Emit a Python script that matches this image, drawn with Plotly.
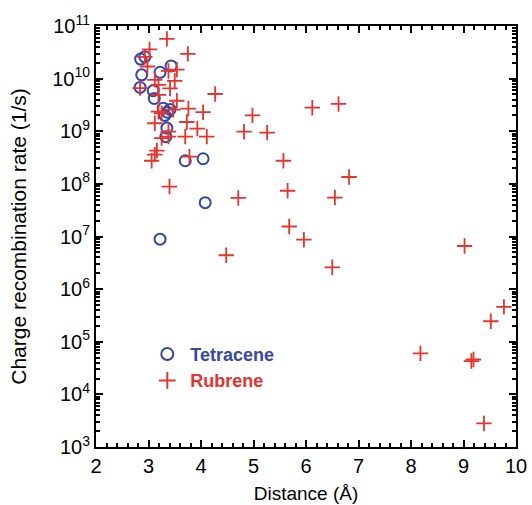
import plotly.graph_objects as go

# Tetracene (circles)
tet_x = [2.85, 2.93, 2.87, 2.84, 3.09, 3.11, 3.22, 3.43, 3.28, 3.36, 3.41, 3.31, 3.35, 3.33, 3.70, 4.04, 4.08, 3.22]
tet_y = [2.35e10, 2.6e10, 1.18e10, 6.8e9, 5.9e9, 4.2e9, 1.32e10, 1.74e10, 2.75e9, 2.3e9, 2.6e9, 2.0e9, 1.15e9, 7.9e8, 2.75e8, 3.0e8, 4.4e7, 8.9e6]

# Rubrene (plus)
rub_x = [3.35, 3.02, 3.75, 2.93, 2.98, 3.38, 3.54, 3.12, 3.50, 2.84, 3.19, 3.41, 3.19, 4.27, 3.54,
         3.19, 3.25, 3.76, 4.04, 3.47, 3.73, 3.12, 3.93, 4.11, 3.70, 3.38, 3.25, 3.38, 3.16, 3.12,
         3.06, 3.78, 3.40, 4.98, 6.12, 6.62, 4.82, 5.26, 5.57, 6.82, 5.65, 6.55, 4.71, 4.48, 5.68,
         5.96, 6.50, 9.02, 9.77, 9.52, 8.18, 9.19, 9.15, 9.39]
rub_y = [5.7e10, 3.6e10, 2.95e10, 2.6e10, 1.7e10, 1.4e10, 1.48e10, 9.5e9, 9.1e9, 6.6e9, 7.6e9, 6.5e9, 4.9e9, 5.1e9, 3.8e9,
         2.35e9, 2.2e9, 2.7e9, 2.3e9, 2.57e9, 1.5e9, 1.42e9, 1.12e9, 7.9e8, 7.9e8, 7.9e8, 7.4e8, 9.8e8, 4.3e8, 3.6e8,
         2.75e8, 3.3e8, 8.9e7, 2.0e9, 2.8e9, 3.3e9, 9.8e8, 9.4e8, 2.75e8, 1.35e8, 7.4e7, 5.5e7, 5.4e7, 4.4e6, 1.55e7,
         8.7e6, 2.6e6, 6.6e6, 4.6e5, 2.45e5, 6.0e4, 4.6e4, 4.3e4, 2.8e3]

x_ticks = [2, 3, 4, 5, 6, 7, 8, 9, 10]
y_exps = [3, 4, 5, 6, 7, 8, 9, 10, 11]

BLUE = "#3447a8"
RED = "#e8322c"
FONT = "Liberation Sans, Arial, sans-serif"

fig = go.Figure()
fig.add_trace(go.Scatter(
    x=tet_x, y=tet_y, mode="markers",
    name="<span style='color:%s'><b>Tetracene</b></span>" % BLUE,
    marker=dict(symbol="circle-open", size=11, color=BLUE, line=dict(width=2, color=BLUE)),
))
fig.add_trace(go.Scatter(
    x=rub_x, y=rub_y, mode="markers",
    name="<span style='color:%s'><b>Rubrene</b></span>" % RED,
    marker=dict(symbol="cross-thin-open", size=11, color=RED, line=dict(width=1.8, color=RED)),
))

axis_common = dict(
    showline=True, linecolor="black", linewidth=2, mirror="allticks",
    ticks="inside", ticklen=7, tickwidth=2, tickcolor="black",
    showgrid=False, zeroline=False, automargin=False,
    tickfont=dict(family=FONT, size=20, color="black"),
)

fig.update_xaxes(
    range=[2, 10], tickvals=x_ticks, ticktext=[str(v) for v in x_ticks],
    title=dict(text="Distance (Å)", font=dict(family=FONT, size=19, color="black"), standoff=11),
    minor=dict(ticks="inside", ticklen=4, tickwidth=1.5, tickcolor="black", dtick=0.2),
    **axis_common,
)
fig.update_yaxes(
    type="log", range=[3, 11],
    tickvals=[10 ** e for e in y_exps], ticktext=["10<sup>%d</sup>" % e for e in y_exps],
    title=dict(text="Charge recombination rate (1/s)", font=dict(family=FONT, size=21, color="black"), standoff=20),
    minor=dict(ticks="inside", ticklen=4, tickwidth=1.5, tickcolor="black", dtick="D1"),
    **axis_common,
)

fig.update_layout(
    width=532, height=505,
    margin=dict(l=96, r=16, t=26, b=58),
    paper_bgcolor="white", plot_bgcolor="white",
    showlegend=True,
    legend=dict(x=0.115, y=0.264, xanchor="left", yanchor="top",
                bgcolor="rgba(0,0,0,0)", font=dict(family=FONT, size=18),
                tracegroupgap=0, itemsizing="constant", itemwidth=36),
)

fig.write_html("out.html")
